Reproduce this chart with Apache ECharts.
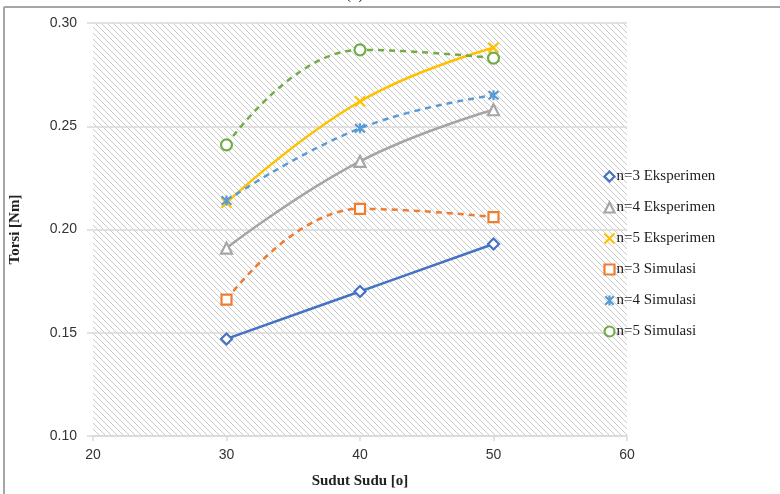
<!DOCTYPE html>
<html><head><meta charset="utf-8">
<script src="https://cdn.jsdelivr.net/npm/echarts@6/dist/echarts.min.js"></script>
<style>html,body{margin:0;padding:0;background:#fff}#c{width:780px;height:494px}</style>
</head><body><div id="c"></div>
<script>
var angles = [30, 40, 50];
var n3Eksp = [0.147, 0.170, 0.193];
var n4Eksp = [0.191, 0.233, 0.258];
var n5Eksp = [0.213, 0.262, 0.288];
var n3Sim = [0.166, 0.210, 0.206];
var n4Sim = [0.214, 0.249, 0.265];
var n5Sim = [0.241, 0.287, 0.283];
var xTicks = [20, 30, 40, 50, 60];
var yTicks = [0.10, 0.15, 0.20, 0.25, 0.30];
var names = ['n=3 Eksperimen','n=4 Eksperimen','n=5 Eksperimen','n=3 Simulasi','n=4 Simulasi','n=5 Simulasi'];

// hatch pattern
var pc = document.createElement('canvas');
pc.width = 6; pc.height = 6;
var g = pc.getContext('2d');
g.fillStyle = '#ffffff'; g.fillRect(0,0,6,6);
g.strokeStyle = '#cacaca'; g.lineWidth = 1;
g.beginPath();
g.moveTo(-1,-1); g.lineTo(7,7);
g.moveTo(-4,2); g.lineTo(4,10);
g.moveTo(2,-4); g.lineTo(10,4);
g.stroke();

var X_PATH = 'path://M0,0L10,10M10,0L0,10';
var AST_PATH = 'path://M0,0L10,10M10,0L0,10M5,-1L5,11';

function pts(arr){ return angles.map(function(a,i){ return [a, arr[i]]; }); }

var defs = [
  {data:n3Eksp, color:'#4472C4', symbol:'diamond', size:11, dash:'solid'},
  {data:n4Eksp, color:'#A5A5A5', symbol:'triangle', size:11, dash:'solid'},
  {data:n5Eksp, color:'#FFC000', symbol:X_PATH, size:10, dash:'solid'},
  {data:n3Sim, color:'#ED7D31', symbol:'rect', size:10, dash:[6,5]},
  {data:n4Sim, color:'#5B9BD5', symbol:AST_PATH, size:10, dash:[6,5]},
  {data:n5Sim, color:'#70AD47', symbol:'circle', size:11, dash:[6,5]}
];
var series = defs.map(function(d,i){
  var isPath = d.symbol.indexOf('path://')===0;
  return {
    name: names[i], type:'line', smooth:0.45, data: pts(d.data),
    symbol: d.symbol, symbolSize: d.size, showAllSymbol:true,
    lineStyle:{color:d.color, width:2.5, type:d.dash},
    itemStyle:{color: isPath ? 'none' : '#ffffff', borderColor:d.color, borderWidth:2.2},
    emphasis:{disabled:true}, animation:false, z: 3
  };
});

var chart = echarts.init(document.getElementById('c'), null, {renderer:'canvas'});
chart.setOption({
  animation:false,
  backgroundColor:'#ffffff',
  grid:{left:93, right:153, top:23, bottom:57, show:true, backgroundColor:{image:pc, repeat:'repeat'}, borderWidth:0},
  xAxis:{type:'value', min:xTicks[0], max:xTicks[xTicks.length-1], interval:10,
    name:'Sudut Sudu [o]', nameLocation:'middle', nameGap:38,
    nameTextStyle:{fontFamily:'Liberation Serif', fontWeight:'bold', fontSize:15, color:'#222'},
    axisLine:{lineStyle:{color:'#d9d9d9', width:1.5}},
    axisTick:{show:true, length:5, lineStyle:{color:'#d9d9d9', width:1.5}},
    axisLabel:{fontFamily:'Liberation Sans', fontSize:14, color:'#333', margin:12},
    splitLine:{show:false}},
  yAxis:{type:'value', min:yTicks[0], max:yTicks[yTicks.length-1], interval:0.05,
    name:'Torsi [Nm]', nameLocation:'middle', nameGap:70,
    nameTextStyle:{fontFamily:'Liberation Serif', fontWeight:'bold', fontSize:15, color:'#222'},
    axisLine:{show:false},
    axisTick:{show:true, length:6, lineStyle:{color:'#d9d9d9', width:1.5}},
    axisLabel:{fontFamily:'Liberation Sans', fontSize:14, color:'#333', margin:16, formatter:function(v){return v.toFixed(2);}},
    splitLine:{show:true, lineStyle:{color:'#d9d9d9', width:1.5}}},
  legend:{orient:'vertical', left:597, top:164, itemGap:16, itemWidth:10, itemHeight:10,
    textStyle:{fontFamily:'Liberation Serif', fontSize:15, color:'#222', padding:[0,0,0,-3]},
    selectedMode:false,
    data: defs.map(function(d,i){
      var isPath = d.symbol.indexOf('path://')===0;
      return {name:names[i], icon:d.symbol,
        itemStyle:{color: isPath ? 'none' : '#ffffff', borderColor:d.color, borderWidth:2.2}};
    })},
  graphic:[
    {type:'line', shape:{x1:4, y1:7, x2:780, y2:7}, style:{stroke:'#a6a6a6', lineWidth:2}},
    {type:'line', shape:{x1:4, y1:7, x2:4, y2:494}, style:{stroke:'#a6a6a6', lineWidth:2}},
    {type:'text', left:346, top:-12, style:{text:'(b)', font:'15px "Liberation Serif"', fill:'#222'}}
  ],
  series: series
});
</script></body></html>
